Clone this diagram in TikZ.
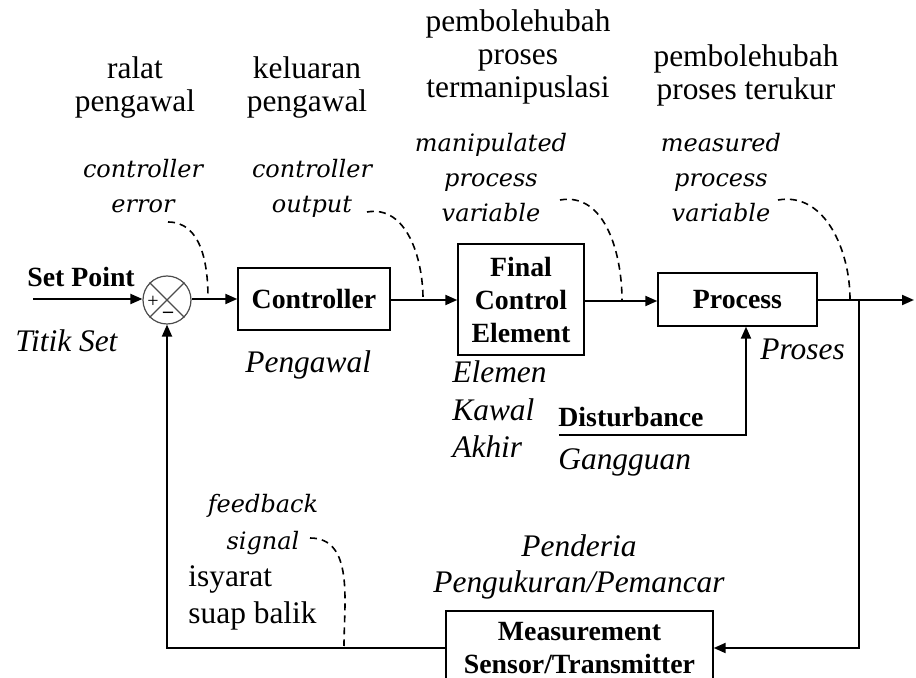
\documentclass[tikz,border=0pt]{standalone}
\usepackage{fontspec}
\setmainfont{Liberation Serif}
\newfontfamily\calloutfont{DejaVu Serif}
\usetikzlibrary{arrows.meta,positioning}

% fonts
\newcommand{\fup}{\fontsize{15.7}{16.5}\selectfont}
\newcommand{\fit}{\fontsize{15.7}{17.5}\selectfont\itshape}
\newcommand{\fbf}{\fontsize{13.9}{16.5}\selectfont\bfseries}
\newcommand{\fen}{\fontsize{12}{17.5}\selectfont\calloutfont\itshape}

\tikzset{
  blockbox/.style={draw, line width=0.7pt, inner sep=0pt, align=center, font=\fbf},
  sig/.style={line width=1pt, -{Triangle[length=6pt,width=5pt]}},
  line/.style={line width=1pt},
  callout/.style={line width=0.8pt, dash pattern=on 3.5pt off 2.5pt},
  lbl/.style={inner sep=0pt, anchor=base},
}

\begin{document}
\begin{tikzpicture}[x=0.5pt,y=-0.5pt]
\clip (0,0) rectangle (916,678);

% Blocks
\node[circle, draw=black!70, line width=0.6pt, minimum size=24pt, inner sep=0pt] (sum) at (167,300) {};
\draw[black!70, line width=0.6pt] (sum.north west) -- (sum.south east);
\draw[black!70, line width=0.6pt] (sum.north east) -- (sum.south west);
\node[inner sep=0pt, font=\fontsize{10}{10}\selectfont] (plus) at (153,302) {+};
\node[inner sep=0pt, font=\fontsize{10}{10}\selectfont\bfseries] (minus) at (168,315) {--};

\node[blockbox, minimum width=76pt, minimum height=31pt] (ctrl) at (314,299) {Controller};
\node[blockbox, minimum width=63pt, minimum height=55.5pt] (fce) at (521,299.5) {Final\\Control\\Element};
\node[blockbox, minimum width=79.5pt, minimum height=26.5pt] (proc) at (737.5,299.5) {Process};
\node[blockbox, minimum width=133.5pt, minimum height=37pt] (meas) at (579.5,648) {Measurement\\Sensor/Transmitter};

% Free ends
\coordinate (sp) at (33,299);
\coordinate (out) at (914,300);
\coordinate (br) at (859,300);
\coordinate (dist) at (559,435);

% Signals
\draw[sig] (sp) -- (sum.west |- sp);
\draw[sig] (sum.east |- 0,299) -- (ctrl.west |- 0,299);
\draw[sig] (ctrl.east |- 0,300) -- (fce.west |- 0,300);
\draw[sig] (fce.east |- 0,301) -- (proc.west |- 0,301);
\draw[sig] (proc.east |- out) -- (out);
\draw[sig] (br) |- (meas.east);
\draw[sig] (meas.west) -| (sum.south);
\draw[sig] (dist) -| ([xshift=4.25pt]proc.south);

% Dashed callouts
\coordinate (ceA) at (168,222);  \coordinate (ceB) at (208,298);
\coordinate (coA) at (367,212);  \coordinate (coB) at (423,299);
\coordinate (mvA) at (560,200);  \coordinate (mvB) at (622,300);
\coordinate (msA) at (778,200);  \coordinate (msB) at (850,299);
\coordinate (fbA) at (310,538);  \coordinate (fbB) at (344,646);
\draw[callout] (ceA) to[out=0,in=90] (ceB);
\draw[callout] (coA) to[out=10,in=90] (coB);
\draw[callout] (mvA) to[out=10,in=90] (mvB);
\draw[callout] (msA) to[out=10,in=90] (msB);
\draw[callout] (fbA) to[out=0,in=90] (fbB);

% Malay labels (upright)
\node[lbl, align=center, font=\fup] (ralat) at (135,112) {ralat\\pengawal};
\node[lbl, align=center, font=\fup] (keluaran) at (307,112) {keluaran\\pengawal};
\node[lbl, align=center, font=\fup] (pubah) at (518,98) {pembolehubah\\proses\\termanipuslasi};
\node[lbl, align=center, font=\fup] (pukur) at (746,100) {pembolehubah\\proses terukur};
\node[lbl, anchor=base west, align=left, font=\fontsize{15.7}{18}\selectfont] (isyarat) at (188,623) {isyarat\\suap balik};

% English callout labels
\node[lbl, align=center, font=\fen] (cerr) at (143,213) {controller\\error};
\node[lbl, align=center, font=\fen] (cout) at (312,213) {controller\\output};
\node[lbl, align=center, font=\fen] (mpv) at (491,222) {manipulated\\process\\variable};
\node[lbl, align=center, font=\fen] (mspv) at (721,222) {measured\\process\\variable};
\node[lbl, align=center, font=\fontsize{12}{18.5}\selectfont\calloutfont\itshape] (fbs) at (263,550) {feedback\\signal};

% Bold labels
\node[lbl, anchor=base west, font=\fbf] (setpt) at (27,287) {Set Point};
\node[lbl, anchor=base west, font=\fbf] (dtext) at (558,427) {Disturbance};

% Malay labels (italic)
\node[lbl, anchor=base west, font=\fit] (titik) at (15,352) {Titik Set};
\node[lbl, anchor=base west, font=\fit] (pengawal) at (245,373) {Pengawal};
\node[lbl, anchor=base west, align=left, font=\fontsize{15.7}{18.75}\selectfont\itshape] (eka) at (452,458) {Elemen\\Kawal\\Akhir};
\node[lbl, anchor=base west, font=\fit] (proses) at (760,360) {Proses};
\node[lbl, anchor=base west, font=\fit] (gangguan) at (558,470) {Gangguan};
\node[lbl, align=center, font=\fit] (penderia) at (579,592) {Penderia\\Pengukuran/Pemancar};
\end{tikzpicture}
\end{document}
